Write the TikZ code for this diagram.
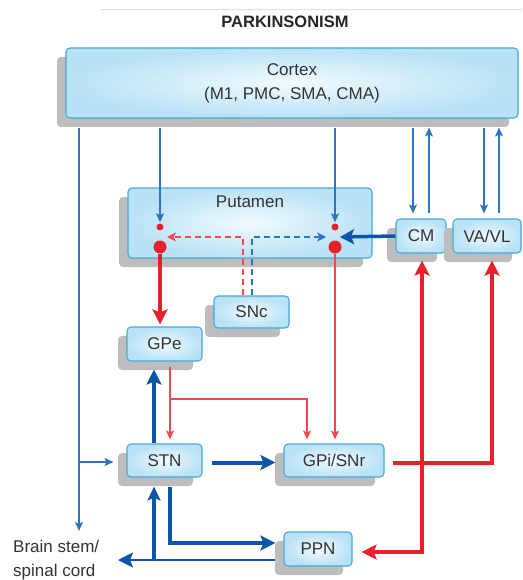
\documentclass[tikz,border=0pt]{standalone}
\usepackage{fontspec}
\setmainfont{Liberation Sans}
\usetikzlibrary{arrows.meta,shadows,calc}
\definecolor{bdark}{HTML}{0B56A8}
\definecolor{bthinc}{HTML}{2E74BE}
\definecolor{rred}{HTML}{E8202A}
\definecolor{rthinc}{HTML}{EE4A50}
\definecolor{boxedge}{HTML}{48A9DA}
\definecolor{boxin}{HTML}{F2FBFF}
\definecolor{boxout}{HTML}{B8E2F5}
\definecolor{shadowc}{HTML}{BDBDBD}
\begin{document}
\begin{tikzpicture}[x=1pt,y=-1pt,
  box/.style={draw=boxedge, line width=1.1pt, rounded corners=4pt,
    inner color=boxin, outer color=boxout, inner sep=0pt, text=black!80,
    font=\fontsize{17}{24}\selectfont,
    drop shadow={shadow xshift=-9pt, shadow yshift=-9pt, fill=shadowc, opacity=1}},
  tb/.style={draw=bthinc, line width=1.2pt, -{Stealth[length=9pt,width=8pt,inset=2pt]}},
  bk/.style={draw=bdark, line width=4pt, -{Stealth[length=15pt,width=15pt,inset=3pt]}},
  rk/.style={draw=rred, line width=4pt, -{Stealth[length=15pt,width=15pt,inset=3pt]}},
  rt/.style={draw=rthinc, line width=1.2pt, -{Stealth[length=9pt,width=8pt,inset=2pt]}},
  dotS/.style={circle, fill=rred, inner sep=0pt, minimum size=7pt},
  dotB/.style={circle, fill=rred, inner sep=0pt, minimum size=13pt},
  dsh/.style={line width=1.3pt, dash pattern=on 6pt off 4pt}
]
\useasboundingbox (0,0) rectangle (522,580);
\draw[black!12, line width=1pt] (100,10) -- (522,10);
\node[font=\bfseries\fontsize{16.5}{20}\selectfont, text=black!85] (title) at (285,22) {PARKINSONISM};

% boxes
\node[box, minimum width=452pt, minimum height=70pt, align=center] (cortex) at (292,83) {Cortex\\(M1, PMC, SMA, CMA)};
\node[box, minimum width=244pt, minimum height=70pt,
  label={[anchor=north, inner sep=0pt, yshift=-8pt, font=\fontsize{17}{20}\selectfont, text=black!80]north:Putamen}] (put) at (250,223) {};
\node[box, minimum width=75pt, minimum height=32pt] (snc) at (251.5,312) {SNc};
\node[box, minimum width=75pt, minimum height=34pt] (gpe) at (164.5,344) {GPe};
\node[box, minimum width=75pt, minimum height=33pt] (stn) at (164.5,460.5) {STN};
\node[box, minimum width=100pt, minimum height=33pt] (gpi) at (334,460.5) {GPi/SNr};
\node[box, minimum width=68pt, minimum height=34pt] (ppn) at (318,549) {PPN};
\node[box, minimum width=50pt, minimum height=34pt] (cm) at (421,236) {CM};
\node[box, minimum width=68pt, minimum height=34pt] (vavl) at (487,236) {VA/VL};
\node[align=left, anchor=north west, inner sep=0pt, text=black!80, font=\fontsize{17}{24}\selectfont] (brain) at (13,540) {Brain stem/\\spinal cord};

% dots in putamen
\node[dotS] (dLs) at (160,227) {};
\node[dotB] (dLb) at (160,247) {};
\node[dotS] (dRs) at (335,227) {};
\node[dotB] (dRb) at (335,247) {};

% helper coordinates
\coordinate (bsTip) at (79,531);
\coordinate (stnIn) at (79,462);
\coordinate (cmD) at ([xshift=-8pt]cm.north);
\coordinate (cmU) at ([xshift=8pt]cm.north);
\coordinate (vaD) at ([xshift=-3pt]vavl.north);
\coordinate (vaU) at ([xshift=12pt]vavl.north);
\coordinate (pR) at (340,237);
\coordinate (pL) at (167,237);
\coordinate (sncR) at ([xshift=-8.5pt]snc.north);
\coordinate (sncB) at ([xshift=0.5pt]snc.north);
\coordinate (gx) at ([xshift=5.5pt]gpe.south);
\coordinate (gb) at (170,399);
\coordinate (gpiL) at ([xshift=-27pt]gpi.north);
\coordinate (sx) at ([xshift=-10.5pt]stn.north);
\coordinate (sb) at ([xshift=5.5pt]stn.south);
\coordinate (ppT) at ([yshift=6pt]ppn.west);
\coordinate (ppB) at ([yshift=-11pt]ppn.west);
\coordinate (bsArr) at (118,560);
\coordinate (upx) at (154,560);
\coordinate (vx) at ([xshift=5pt]vavl.south);
\coordinate (jx) at ([xshift=1pt]cm.south);
\coordinate (gE) at ([yshift=-2.5pt]gpi.east);
\coordinate (pE) at ([yshift=-3pt]ppn.east);

% cortex outputs
\draw[tb, shorten <=9pt] (cortex.south -| bsTip) -- (bsTip);
\draw[tb] (stnIn) -- ([xshift=-13pt]stn.west |- stnIn);
\draw[tb, shorten <=9pt, shorten >=1pt] (cortex.south -| dLs) -- (dLs.north);
\draw[tb, shorten <=9pt, shorten >=1pt] (cortex.south -| dRs) -- (dRs.north);
\draw[tb, shorten <=9pt, shorten >=5pt] (cortex.south -| cmD) -- (cmD);
\draw[tb, shorten <=5pt, shorten >=9pt] (cmU) -- (cortex.south -| cmU);
\draw[tb, shorten <=9pt, shorten >=5pt] (cortex.south -| vaD) -- (vaD);
\draw[tb, shorten <=5pt, shorten >=9pt] (vaU) -- (cortex.south -| vaU);

% CM to putamen
\draw[bk, line width=3.5pt, -{Stealth[length=14pt,width=15pt,inset=3pt]}] (cm.west) -- (pR);

% SNc dashed
\draw[rthinc, dsh, -{Stealth[length=9pt,width=9pt,inset=2.5pt]}] (sncR) -- (sncR |- pR) -- (pL);
\draw[bthinc, dsh, -{Stealth[length=9pt,width=9pt,inset=2.5pt]}] (sncB) -- (sncB |- pR) -- ([xshift=-14pt]pR);

% putamen outputs
\draw[rk, shorten >=2pt] (dLb) -- (dLb |- gpe.north);
\draw[rt, shorten >=4pt] (dRb) -- (dRb |- gpi.north);

% GPe outputs
\draw[rt, shorten <=5pt, shorten >=4pt] (gx) -- (gx |- stn.north);
\draw[rt, shorten >=4pt] (gb) -- (gpiL |- gb) -- (gpiL);

% STN outputs
\draw[bk, shorten >=8pt] (sx) -- (sx |- gpe.south);
\draw[bk, shorten <=9pt, shorten >=8pt] ([yshift=-2pt]stn.east) -- ([yshift=-2pt]gpi.west);
\draw[bk, shorten <=9pt, shorten >=8pt] (sb) -- (sb |- ppT) -- (ppT);

% PPN outputs
\draw[bdark, line width=2.2pt, -{Stealth[length=15pt,width=15pt,inset=3pt]}, shorten <=8pt] (ppB) -- (bsArr);
\draw[bdark, line width=3.2pt, -{Stealth[length=14pt,width=13pt,inset=3pt]}, shorten >=9pt] (upx) -- (upx |- stn.south);

% GPi outputs
\draw[rk, shorten <=8pt, shorten >=7pt] (gE) -- (vx |- gE) -- (vx);
\draw[rk, shorten >=7pt] (jx |- gE) -- (jx);
\draw[rk, shorten >=9pt] (jx |- gE) -- (jx |- pE) -- (pE);
\end{tikzpicture}
\end{document}
